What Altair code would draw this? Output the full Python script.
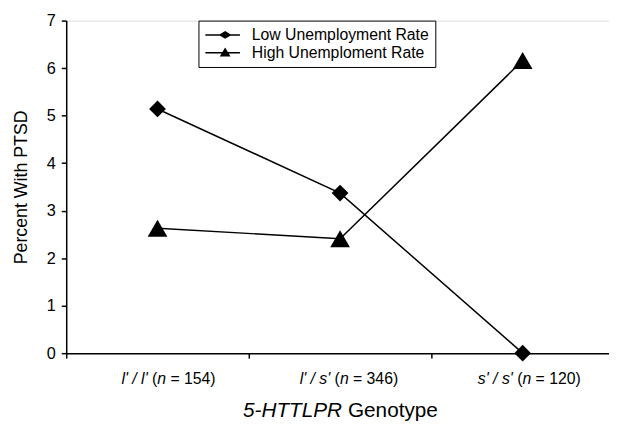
import altair as alt
import pandas as pd

# ---- data ----
genotypes = ["l'/l'", "l'/s'", "s'/s'"]
allele_labels = ["l' / l'", "l' / s'", "s' / s'"]
n_counts = [154, 346, 120]
series_names = ["Low Unemployment Rate", "High Unemploment Rate"]
low_rate = [5.14, 3.37, 0.0]
high_rate = [2.63, 2.41, 6.16]
y_ticks = [0, 1, 2, 3, 4, 5, 6, 7]
x_title_italic = "5-HTTLPR"
x_title_rest = "Genotype"
y_title = "Percent With PTSD"

rows = []
for g, v in zip(genotypes, low_rate):
    rows.append({"Genotype": g, "Series": series_names[0], "Value": v})
for g, v in zip(genotypes, high_rate):
    rows.append({"Genotype": g, "Series": series_names[1], "Value": v})
df = pd.DataFrame(rows)

lab_df = pd.DataFrame({
    "Genotype": genotypes,
    "allele": allele_labels,
    "rest": [f"= {n})" for n in n_counts],
})

W, H = 555, 337
FONT = "Liberation Sans"

xscale = alt.Scale(type="band", domain=genotypes, paddingInner=0, paddingOuter=0)
xaxis = alt.Axis(title=None, labels=False, bandPosition=0, tickSize=5,
                 grid=False, domainColor="black", tickColor="black",
                 domainWidth=1.5, tickWidth=1.5)
yscale = alt.Scale(domain=[0, 7], nice=False, zero=True)
yaxis = alt.Axis(values=y_ticks, tickSize=5, labelFontSize=16.5, labelPadding=6,
                 title=y_title, titleFontSize=18, titleFontWeight="normal",
                 titlePadding=16, grid=False, domainColor="black",
                 tickColor="black", labelColor="black", titleColor="black",
                 domainWidth=1.5, tickWidth=1.5, labelFont=FONT, titleFont=FONT)

X = alt.X("Genotype:N", sort=genotypes, scale=xscale, axis=xaxis)
Y = alt.Y("Value:Q", scale=yscale, axis=yaxis)

base = alt.Chart(df)

lines = base.mark_line(color="black", strokeWidth=1.5).encode(
    x=X, y=Y, detail="Series:N")

diamonds = base.transform_filter(
    alt.datum.Series == series_names[0]
).mark_point(shape="diamond", filled=True, color="black", opacity=1, size=289).encode(x=X, y=Y)

triangles = base.transform_filter(
    alt.datum.Series == series_names[1]
).mark_point(shape="triangle-up", filled=True, color="black", opacity=1, size=400).encode(x=X, y=Y)

# legend glyphs: a thin filled bar (the line) plus the marker, as filled SVG paths
bar = "M-1,-0.1L3.67,-0.1L3.67,0.1L-1,0.1Z"
diamond_path = bar + "M0.8,0L1.67,-0.53L2.54,0L1.67,0.53Z"
tri_path = bar + "M0.94,0.5L1.67,-0.7L2.4,0.5Z"

legend_layer = base.mark_point(filled=True, fill="black", opacity=0, size=225).encode(
    x=X, y=Y,
    shape=alt.Shape("Series:N",
                    scale=alt.Scale(domain=series_names, range=[diamond_path, tri_path]),
                    legend=alt.Legend(title=None, orient="none", legendX=134, legendY=0,
                                      strokeColor="black", fillColor="white", padding=6,
                                      labelFontSize=16, labelColor="black", labelFont=FONT,
                                      symbolSize=225, symbolFillColor="black",
                                      symbolOpacity=1, labelOffset=31, rowPadding=1,
                                      labelLimit=400)),
)

d0 = -10
LY = 368
lab = alt.Chart(lab_df)
t_a = lab.mark_text(align="right", baseline="alphabetic", fontSize=16, font=FONT,
                    fontStyle="italic", color="black", dx=d0).encode(
    x=X, y=alt.value(LY), text="allele:N")
t_b = lab.mark_text(align="left", baseline="alphabetic", fontSize=16, font=FONT,
                    color="black", dx=d0 + 4.45, text="(").encode(x=X, y=alt.value(LY))
t_c = lab.mark_text(align="left", baseline="alphabetic", fontSize=16, font=FONT,
                    fontStyle="italic", color="black", dx=d0 + 9.8, text="n").encode(
    x=X, y=alt.value(LY))
t_d = lab.mark_text(align="left", baseline="alphabetic", fontSize=16, font=FONT,
                    color="black", dx=d0 + 23.1).encode(x=X, y=alt.value(LY), text="rest:N")

TY = 402
tdf = pd.DataFrame({"a": [x_title_italic], "b": [x_title_rest]})
title_a = alt.Chart(tdf).mark_text(align="right", baseline="alphabetic", fontSize=21, font=FONT,
                                   fontStyle="italic", color="black").encode(
    x=alt.value(W / 2 + 2), y=alt.value(TY), text="a:N")
title_b = alt.Chart(tdf).mark_text(align="left", baseline="alphabetic", fontSize=21, font=FONT,
                                   color="black").encode(
    x=alt.value(W / 2 + 8), y=alt.value(TY), text="b:N")

chart = alt.layer(
    lines, diamonds, triangles, legend_layer, t_a, t_b, t_c, t_d, title_a, title_b
).properties(
    width=W, height=H, autosize="none",
    padding={"left": 59, "top": 10, "right": -5, "bottom": 70},
    background="white",
).configure_view(stroke=None).configure(font=FONT)

chart.save("out.html", embed_options={"renderer": "svg", "actions": False})
